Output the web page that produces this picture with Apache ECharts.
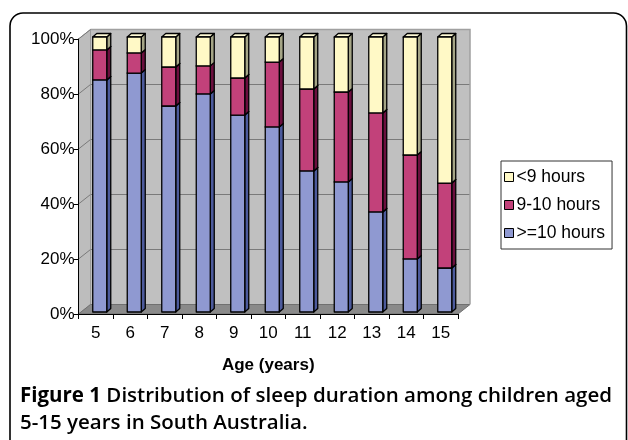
<!DOCTYPE html>
<html>
<head>
<meta charset="utf-8">
<script src="https://cdn.jsdelivr.net/npm/echarts@6/dist/echarts.min.js"></script>
<style>
html,body{margin:0;padding:0;background:#fff;}
#chart{width:628px;height:440px;}
</style>
</head>
<body>
<div id="chart"></div>
<script>
// ---- data ----
var categories = ['5','6','7','8','9','10','11','12','13','14','15'];
var seriesNames = ['<9 hours','9-10 hours','>=10 hours'];
var over10 = [84.4, 86.9, 74.9, 79.3, 71.6, 67.3, 51.3, 47.3, 36.4, 19.3, 16.0];
var h9to10 = [10.9, 7.3, 14.2, 10.2, 13.5, 23.6, 29.8, 32.7, 36.0, 37.8, 30.9];
var under9 = [4.7, 5.8, 10.9, 10.5, 14.9, 9.1, 18.9, 20.0, 27.6, 42.9, 53.1];
var yTicks = [0, 20, 40, 60, 80, 100];
var xTitle = 'Age (years)';
var captionBold = 'Figure 1';
var captionLine1 = ' Distribution of sleep duration among children aged';
var captionLine2 = '5-15 years in South Australia.';

// ---- layout / style ----
var G = {left: 78.5, top: 39, width: 379.5, height: 275};
var D = {dx: 12, dy: -9.5};           // wall depth
var B = {off: 4, offY: -2, w: 14, sdx: 4, sdy: -3.5};

var styles = [
  {front: '#8f99d1', side: '#4c5a9c', top: '#a9b1dd'},   // >=10
  {front: '#c2417a', side: '#6b0f3e', top: '#d26895'},   // 9-10
  {front: '#fff9c6', side: '#a5a586', top: '#fffbd6'}    // <9
];

function stackData(vals, bases) {
  return vals.map(function (v, i) { return [i, bases[i], bases[i] + v]; });
}
var zero = categories.map(function(){return 0;});
var base2 = over10.slice();
var base3 = over10.map(function (v, i) { return v + h9to10[i]; });
var stacks = [stackData(over10, zero), stackData(h9to10, base2), stackData(under9, base3)];

function makeRender(st) {
  return function (params, api) {
    var c = api.value(0);
    var p0 = api.coord([c, api.value(1)]);
    var p1 = api.coord([c, api.value(2)]);
    var x0 = p0[0] + B.off - B.w / 2, x1 = x0 + B.w;
    var yb = p0[1] + B.offY, yt = p1[1] + B.offY;
    var ls = {stroke: '#000', lineWidth: 1.3, lineJoin: 'round'};
    return {
      type: 'group',
      children: [
        {type: 'polygon', shape: {points: [[x1, yb], [x1 + B.sdx, yb + B.sdy], [x1 + B.sdx, yt + B.sdy], [x1, yt]]},
         style: Object.assign({fill: st.side}, ls)},
        {type: 'polygon', shape: {points: [[x0, yt], [x1, yt], [x1 + B.sdx, yt + B.sdy], [x0 + B.sdx, yt + B.sdy]]},
         style: Object.assign({fill: st.top}, ls)},
        {type: 'rect', shape: {x: x0, y: yt, width: B.w, height: yb - yt},
         style: Object.assign({fill: st.front}, ls)}
      ]
    };
  };
}

var seriesIdx = [2, 1, 0]; // draw order: >=10, 9-10, <9
var series = [over10, h9to10, under9].map(function (vals, k) {
  return {
    name: seriesNames[seriesIdx[k]],
    type: 'custom',
    xAxisIndex: 0, yAxisIndex: 0,
    renderItem: makeRender(styles[k]),
    encode: {x: 0, y: 2},
    itemStyle: {color: styles[k].front, borderColor: '#000', borderWidth: 1},
    data: stacks[k],
    z: 5
  };
});

var fontFam = '"Liberation Sans", Arial, sans-serif';

var chart = echarts.init(document.getElementById('chart'), null, {renderer: 'canvas'});
var option = {
  animation: false,
  backgroundColor: '#fff',
  grid: [
    {left: G.left, top: G.top, width: G.width, height: G.height},
    {left: G.left + D.dx, top: G.top + D.dy, width: G.width, height: G.height,
     show: true, backgroundColor: '#c0c0c0', borderWidth: 0, z: 0}
  ],
  xAxis: [
    {type: 'category', gridIndex: 0, data: categories,
     axisLine: {lineStyle: {color: '#000', width: 1}},
     axisTick: {show: true, length: 5, lineStyle: {color: '#000'}},
     axisLabel: {color: '#000', fontSize: 17, fontFamily: fontFam, margin: 11},
     name: xTitle, nameLocation: 'middle', nameGap: 43,
     nameTextStyle: {color: '#000', fontSize: 17, fontWeight: 'bold', fontFamily: fontFam},
     z: 10},
    {type: 'category', gridIndex: 1, data: categories, show: false}
  ],
  yAxis: [
    {type: 'value', gridIndex: 0, min: 0, max: 100, interval: 20,
     axisLine: {show: true, lineStyle: {color: '#000', width: 1}},
     axisTick: {show: true, length: 5, lineStyle: {color: '#000'}},
     axisLabel: {color: '#000', fontSize: 17, fontFamily: fontFam, margin: 4,
                 formatter: function (v) { return yTicks.indexOf(v) >= 0 ? v + '%' : ''; }},
     splitLine: {show: false}, z: 10},
    {type: 'value', gridIndex: 1, min: 0, max: 100, interval: 20,
     axisLine: {show: false}, axisTick: {show: false}, axisLabel: {show: false},
     splitLine: {show: true, lineStyle: {color: '#7a7a7a', width: 1}}}
  ],
  legend: {
    orient: 'vertical', left: 501, top: 161,
    data: seriesNames,
    icon: 'rect', itemWidth: 9, itemHeight: 9, itemGap: 10,
    padding: [7, 7, 7, 3],
    borderColor: '#333', borderWidth: 1,
    textStyle: {color: '#000', fontSize: 17.5, fontFamily: fontFam, padding: [0, 0, 0, -2]},
    itemStyle: {borderColor: '#000', borderWidth: 1}
  },
  series: series
};
chart.setOption(option);

// decorations: side wall, floor, frame and caption
var yPix = yTicks.map(function (t) { return chart.convertToPixel({yAxisIndex: 0}, t); });
var xL = G.left, xR = G.left + G.width;
var yTop = yPix[yPix.length - 1], yBot = yPix[0];
var gfx = [
  {type: 'polygon', z: 1, silent: true,
   shape: {points: [[xL, yBot], [xL + D.dx, yBot + D.dy], [xL + D.dx, yTop + D.dy], [xL, yTop]]},
   style: {fill: '#bdbdbd', stroke: '#9a9a9a', lineWidth: 1}},
  {type: 'polygon', z: 1, silent: true,
   shape: {points: [[xL, yBot], [xL + D.dx, yBot + D.dy], [xR + D.dx, yBot + D.dy], [xR, yBot]]},
   style: {fill: '#8a8a8a', stroke: '#707070', lineWidth: 1}},
  {type: 'polyline', z: 1, silent: true,
   shape: {points: [[xL + D.dx, yTop + D.dy], [xR + D.dx, yTop + D.dy], [xR + D.dx, yBot + D.dy]]},
   style: {stroke: '#a0a0a0', lineWidth: 1.5, fill: null}}
];
yPix.forEach(function (y, i) {
  if (i === 0) return;
  gfx.push({type: 'line', z: 1, silent: true,
    shape: {x1: xL, y1: y, x2: xL + D.dx, y2: y + D.dy},
    style: {stroke: '#7a7a7a', lineWidth: 1}});
});
gfx.push({type: 'rect', z: 20, silent: true,
  shape: {x: 10, y: 13, width: 616.5, height: 470, r: 13},
  style: {fill: null, stroke: '#000', lineWidth: 1.6}});
gfx.push({type: 'text', z: 20, silent: true, left: 20, top: 386,
  style: {text: '{b|' + captionBold + '}{n|' + captionLine1 + '}\n{n|' + captionLine2 + '}',
    rich: {
      b: {fontFamily: '"Open Sans", sans-serif', fontWeight: 700, fontSize: 20.5, fill: '#000', lineHeight: 27},
      n: {fontFamily: '"Open Sans", sans-serif', fontWeight: 600, fontSize: 20.5, fill: '#000', lineHeight: 27}
    }}});
chart.setOption({graphic: {elements: gfx}});
</script>
</body>
</html>
